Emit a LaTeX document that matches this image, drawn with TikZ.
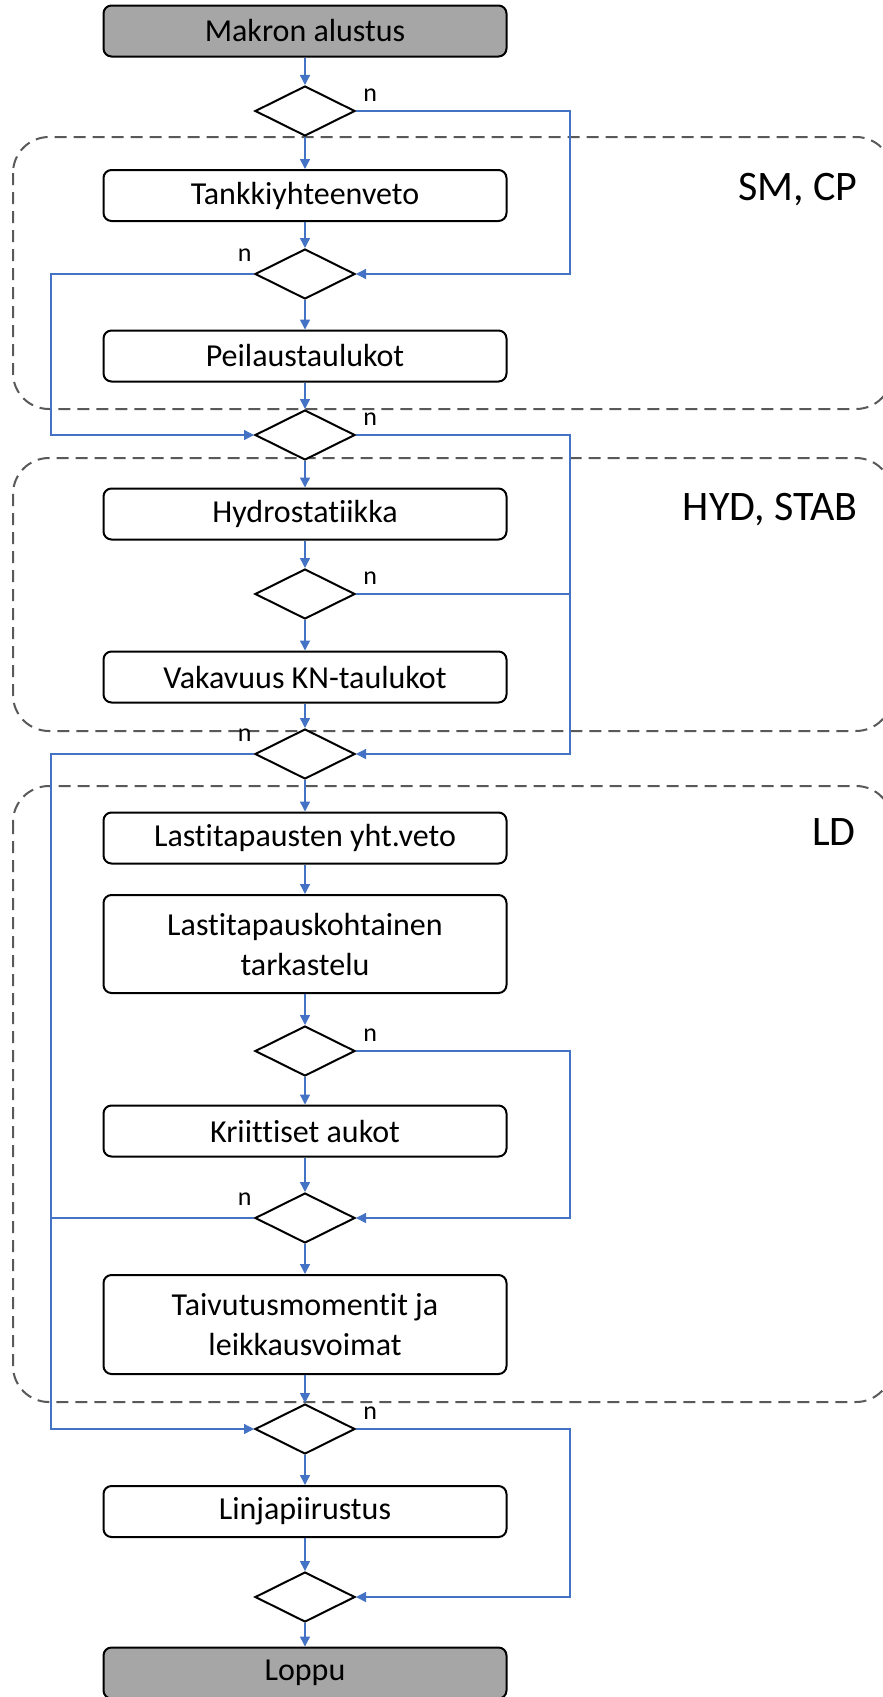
\documentclass[tikz,border=0pt]{standalone}
\usepackage{fontspec}
\setmainfont[Ligatures=NoCommon]{Carlito}
\usetikzlibrary{positioning,shapes.geometric,arrows.meta}
\definecolor{flowblue}{HTML}{4472C4}
\definecolor{boxgrey}{HTML}{A6A6A6}
\definecolor{dashgrey}{HTML}{595959}
\newcommand{\blue}{flowblue}
\newcommand{\grey}{boxgrey}
\tikzset{
    line/.style = { draw=\blue, line width=0.7pt, },
    arrow/.style = { line, -{Triangle[length=5pt,width=5pt]}, },
    stepbox/.style = { draw, fill=white, rounded corners=4pt, line width=1pt, minimum width=201.5pt, minimum height=25.5pt, inner sep=0, align=center, font=\fontsize{16}{20}\selectfont, },
    endbox/.style = { stepbox, fill=\grey, },
    test/.style = { diamond, draw, fill=white, line width=1pt, minimum width=50pt, minimum height=25pt, inner sep=0, },
    wee/.style = { text=black, font=\fontsize{13}{15}\selectfont, inner sep=1pt, },
    group/.style = { draw=dashgrey, line width=1pt, dash pattern=on 6pt off 3.5pt, rounded corners=18pt, },
    write/.style = { text=black, font=\fontsize{21}{25}\selectfont, inner sep=0, anchor=base east, },
}
\newcommand{\bypass}[4]{
    \draw [arrow] (#1.#4) -- (#1.#4 -| #3) -- (#2.#4 -| #3) -- (#2.#4);
}

\begin{document}
\begin{tikzpicture}[x=0.5pt,y=-0.5pt]

    \useasboundingbox (0,0) rectangle (883,1697);

    \coordinate (rightrail) at (570,0);
    \coordinate (leftrail) at (51,0);

    % ryhmat
    \draw [group] (13,137) rectangle (892,409);
    \draw [group] (13,458) rectangle (892,731);
    \draw [group] (13,786) rectangle (892,1402);

    \node [write] (smcp) at (858,200) {SM, CP};
    \node [write] (hydstab) at (858,520) {HYD, STAB};
    \node [write] (ld) at (856,845) {LD};

    \node [endbox] (start) at (305,31) {Makron alustus};
    \node [test] (d1) at (305,111) {};
    \node [stepbox] (tank) at (305,195.5) {Tankkiyhteenveto};
    \node [test] (d2) at (305,274) {};
    \node [stepbox] (peil) at (305,356) {Peilaustaulukot};
    \node [test] (d3) at (305,435) {};
    \node [stepbox] (hydro) at (305,514) {Hydrostatiikka};
    \node [test] (d4) at (305,594) {};
    \node [stepbox] (vakav) at (305,677) {Vakavuus KN-taulukot};
    \node [test] (d5) at (305,754) {};
    \node [stepbox] (lasti) at (305,838) {Lastitapausten yht.veto};
    \node [stepbox,minimum height=49pt] (tarkast) at (305,944) {Lastitapauskohtainen\\tarkastelu};
    \node [test] (d6) at (305,1051) {};
    \node [stepbox] (kriit) at (305,1131) {Kriittiset aukot};
    \node [test] (d7) at (305,1218) {};
    \node [stepbox,minimum height=49.5pt] (taivut) at (305,1324.5) {Taivutusmomentit ja\\leikkausvoimat};
    \node [test] (d8) at (305,1429) {};
    \node [stepbox] (linja) at (305,1511.5) {Linjapiirustus};
    \node [test] (d9) at (305,1597) {};
    \node [endbox] (loppu) at (305,1673) {Loppu};

    \draw [arrow] (start) -- (d1);
    \draw [arrow] (d1) -- (tank);
    \draw [arrow] (tank) -- (d2);
    \draw [arrow] (d2) -- (peil);
    \draw [arrow] (peil) -- (d3);
    \draw [arrow] (d3) -- (hydro);
    \draw [arrow] (hydro) -- (d4);
    \draw [arrow] (d4) -- (vakav);
    \draw [arrow] (vakav) -- (d5);
    \draw [arrow] (d5) -- (lasti);
    \draw [arrow] (lasti) -- (tarkast);
    \draw [arrow] (tarkast) -- (d6);
    \draw [arrow] (d6) -- (kriit);
    \draw [arrow] (kriit) -- (d7);
    \draw [arrow] (d7) -- (taivut);
    \draw [arrow] (taivut) -- (d8);
    \draw [arrow] (d8) -- (linja);
    \draw [arrow] (linja) -- (d9);
    \draw [arrow] (d9) -- (loppu);

    % ohitukset
    \bypass{d1}{d2}{rightrail}{east}
    \bypass{d2}{d3}{leftrail}{west}
    \bypass{d3}{d5}{rightrail}{east}
    \draw [line] (d4.east) -- (d4.east -| rightrail);
    \bypass{d5}{d8}{leftrail}{west}
    \draw [line] (d7.west) -- (d7.west -| leftrail);
    \bypass{d6}{d7}{rightrail}{east}
    \bypass{d8}{d9}{rightrail}{east}

    \node [wee, above right=3.5pt and 2.5pt of d1.east] (n1) {n};
    \node [wee, above left=5pt and 0pt of d2.west] (n2) {n};
    \node [wee, above right=3.5pt and 2.5pt of d3.east] (n3) {n};
    \node [wee, above right=3.5pt and 2.5pt of d4.east] (n4) {n};
    \node [wee, above left=5pt and 0pt of d5.west] (n5) {n};
    \node [wee, above right=3.5pt and 2.5pt of d6.east] (n6) {n};
    \node [wee, above left=5pt and 0pt of d7.west] (n7) {n};
    \node [wee, above right=3.5pt and 2.5pt of d8.east] (n8) {n};

\end{tikzpicture}
\end{document}
